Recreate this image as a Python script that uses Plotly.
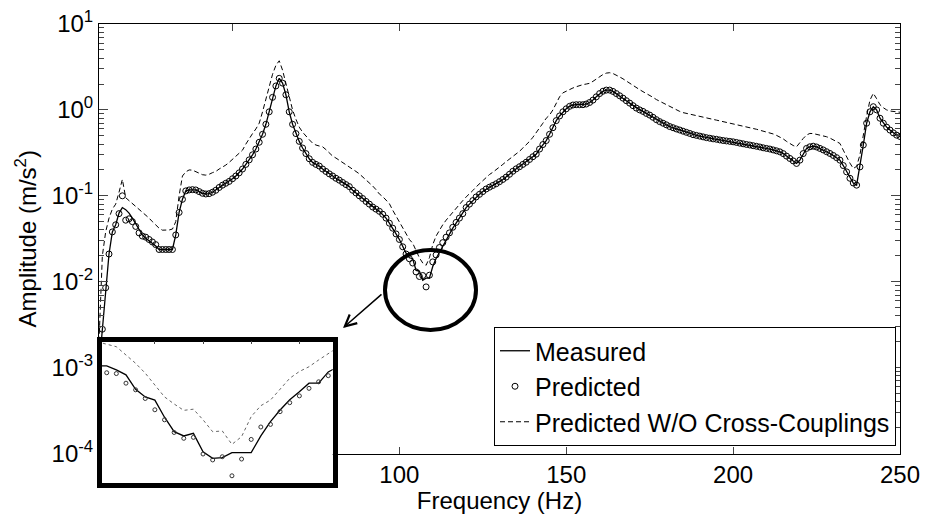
import plotly.graph_objects as go

# ---------------- data ----------------
freq = list(range(10, 251))  # Hz, 1 Hz resolution

measured = [
    0.001, 0.0028, 0.0085, 0.021, 0.038, 0.046, 0.063, 0.073, 0.069, 0.063,
    0.055, 0.047, 0.04, 0.035, 0.032, 0.03, 0.028, 0.026, 0.0237, 0.0237,
    0.0237, 0.0237, 0.0237, 0.035, 0.064, 0.091, 0.114, 0.117, 0.118, 0.117,
    0.112, 0.107, 0.105, 0.106, 0.11, 0.116, 0.125, 0.133, 0.14, 0.147,
    0.158, 0.17, 0.185, 0.205, 0.232, 0.262, 0.3, 0.35, 0.42, 0.52,
    0.68, 0.95, 1.4, 1.9, 2.33, 2.05, 1.5, 0.95, 0.68, 0.53,
    0.43, 0.36, 0.31, 0.27, 0.245, 0.232, 0.222, 0.205, 0.192, 0.18,
    0.17, 0.16, 0.152, 0.143, 0.135, 0.128, 0.116, 0.108, 0.1, 0.093,
    0.086, 0.08, 0.074, 0.07, 0.066, 0.061, 0.055, 0.048, 0.042, 0.036,
    0.031, 0.026, 0.0215, 0.019, 0.0185, 0.0135, 0.0133, 0.0104, 0.011, 0.011,
    0.015, 0.0186, 0.022, 0.0255, 0.03, 0.036, 0.042, 0.048, 0.055, 0.062,
    0.073, 0.08, 0.088, 0.097, 0.104, 0.112, 0.12, 0.126, 0.132, 0.138,
    0.146, 0.155, 0.165, 0.178, 0.193, 0.206, 0.218, 0.232, 0.246, 0.265,
    0.285, 0.305, 0.35, 0.395, 0.44, 0.52, 0.62, 0.75, 0.85, 0.95,
    1.03, 1.1, 1.14, 1.15, 1.15, 1.15, 1.17, 1.22, 1.3, 1.42,
    1.55, 1.65, 1.7, 1.7, 1.64, 1.55, 1.46, 1.37, 1.28, 1.2,
    1.12, 1.05, 1.0, 0.96, 0.91, 0.87, 0.82, 0.77, 0.73, 0.7,
    0.67, 0.64, 0.62, 0.6, 0.583, 0.565, 0.548, 0.532, 0.515, 0.505,
    0.495, 0.485, 0.475, 0.468, 0.46, 0.455, 0.447, 0.44, 0.435, 0.43,
    0.425, 0.418, 0.41, 0.403, 0.396, 0.39, 0.383, 0.377, 0.37, 0.362,
    0.356, 0.35, 0.342, 0.334, 0.325, 0.31, 0.29, 0.272, 0.255, 0.238,
    0.26, 0.31, 0.356, 0.372, 0.378, 0.37, 0.356, 0.342, 0.326, 0.311,
    0.295, 0.278, 0.26, 0.225, 0.19, 0.16, 0.141, 0.133, 0.217, 0.39,
    0.7, 0.95, 1.09, 1.0, 0.8, 0.7, 0.63, 0.582, 0.54, 0.508, 0.49,
]

predicted = [
    0.001, 0.0028, 0.0085, 0.021, 0.038, 0.046, 0.062, 0.1, 0.052, 0.054,
    0.05, 0.044, 0.037, 0.034, 0.033, 0.031, 0.029, 0.027, 0.0237, 0.0237,
    0.0237, 0.0237, 0.0237, 0.035, 0.064, 0.091, 0.114, 0.117, 0.118, 0.117,
    0.112, 0.107, 0.105, 0.106, 0.11, 0.116, 0.125, 0.133, 0.14, 0.147,
    0.158, 0.17, 0.185, 0.205, 0.232, 0.262, 0.3, 0.35, 0.42, 0.52,
    0.68, 0.95, 1.4, 1.9, 2.33, 2.05, 1.5, 0.95, 0.68, 0.53,
    0.43, 0.36, 0.31, 0.27, 0.245, 0.232, 0.222, 0.205, 0.192, 0.18,
    0.17, 0.16, 0.152, 0.143, 0.135, 0.128, 0.116, 0.108, 0.1, 0.093,
    0.086, 0.08, 0.074, 0.07, 0.066, 0.061, 0.055, 0.048, 0.042, 0.036,
    0.031, 0.0255, 0.021, 0.0185, 0.0165, 0.013, 0.0115, 0.0118, 0.0087, 0.0119,
    0.017, 0.0205, 0.025, 0.0285, 0.033, 0.037, 0.043, 0.049, 0.055, 0.062,
    0.073, 0.08, 0.088, 0.097, 0.104, 0.112, 0.12, 0.126, 0.132, 0.138,
    0.146, 0.155, 0.165, 0.178, 0.193, 0.206, 0.218, 0.232, 0.246, 0.265,
    0.285, 0.305, 0.35, 0.395, 0.44, 0.52, 0.62, 0.75, 0.85, 0.95,
    1.03, 1.1, 1.14, 1.15, 1.15, 1.15, 1.17, 1.22, 1.3, 1.42,
    1.55, 1.65, 1.7, 1.7, 1.64, 1.55, 1.46, 1.37, 1.28, 1.2,
    1.12, 1.05, 1.0, 0.96, 0.91, 0.87, 0.82, 0.77, 0.73, 0.7,
    0.67, 0.64, 0.62, 0.6, 0.583, 0.565, 0.548, 0.532, 0.515, 0.505,
    0.495, 0.485, 0.475, 0.468, 0.46, 0.455, 0.447, 0.44, 0.435, 0.43,
    0.425, 0.418, 0.41, 0.403, 0.396, 0.39, 0.383, 0.377, 0.37, 0.362,
    0.356, 0.35, 0.342, 0.334, 0.325, 0.31, 0.29, 0.272, 0.255, 0.238,
    0.26, 0.31, 0.356, 0.372, 0.378, 0.37, 0.356, 0.342, 0.326, 0.311,
    0.295, 0.278, 0.26, 0.225, 0.19, 0.16, 0.141, 0.133, 0.217, 0.39,
    0.7, 0.95, 1.09, 1.0, 0.8, 0.7, 0.63, 0.582, 0.54, 0.508, 0.49,
]

without_cc = [
    0.002, 0.02, 0.038, 0.055, 0.07, 0.08, 0.11, 0.155, 0.095, 0.088,
    0.08, 0.075, 0.069, 0.064, 0.059, 0.055, 0.05, 0.046, 0.042, 0.0398,
    0.0398, 0.04, 0.041, 0.05, 0.1, 0.17, 0.19, 0.2, 0.199, 0.19,
    0.182, 0.176, 0.174, 0.178, 0.186, 0.192, 0.205, 0.215, 0.228, 0.245,
    0.265, 0.285, 0.31, 0.34, 0.4, 0.47, 0.53, 0.6, 0.7, 0.95,
    1.3, 1.8, 2.6, 3.3, 3.73, 2.9, 2.0, 1.4, 1.0, 0.78,
    0.63, 0.55, 0.49, 0.45, 0.41, 0.39, 0.38, 0.372, 0.345, 0.315,
    0.29, 0.275, 0.26, 0.245, 0.23, 0.217, 0.205, 0.192, 0.18, 0.167,
    0.155, 0.143, 0.13, 0.118, 0.105, 0.098, 0.09, 0.081, 0.068, 0.058,
    0.048, 0.041, 0.035, 0.031, 0.028, 0.023, 0.019, 0.0165, 0.0155, 0.019,
    0.027, 0.034, 0.04, 0.046, 0.052, 0.058, 0.064, 0.07, 0.079, 0.088,
    0.097, 0.105, 0.115, 0.127, 0.139, 0.152, 0.165, 0.177, 0.188, 0.2,
    0.215, 0.232, 0.25, 0.268, 0.284, 0.305, 0.33, 0.36, 0.39, 0.43,
    0.48, 0.54, 0.61, 0.7, 0.8, 0.87, 1.0, 1.2, 1.42, 1.58,
    1.66, 1.73, 1.8, 1.86, 1.92, 1.97, 2.0, 2.04, 2.15, 2.3,
    2.43, 2.58, 2.68, 2.71, 2.65, 2.55, 2.42, 2.3, 2.16, 2.04,
    1.93, 1.82, 1.72, 1.63, 1.56, 1.48, 1.4, 1.32, 1.26, 1.2,
    1.14, 1.1, 1.05, 1.0, 0.96, 0.93, 0.91, 0.89, 0.87, 0.85,
    0.83, 0.815, 0.8, 0.79, 0.775, 0.76, 0.745, 0.73, 0.72, 0.71,
    0.7, 0.685, 0.67, 0.655, 0.64, 0.625, 0.61, 0.595, 0.58, 0.568,
    0.556, 0.54, 0.525, 0.505, 0.487, 0.46, 0.43, 0.405, 0.385, 0.372,
    0.42, 0.465, 0.51, 0.532, 0.53, 0.52, 0.505, 0.495, 0.487, 0.47,
    0.45, 0.43, 0.407, 0.34, 0.284, 0.24, 0.208, 0.22, 0.3, 0.532,
    0.85, 1.3, 1.56, 1.35, 1.15, 1.06, 1.0, 0.97, 0.955, 0.95, 0.94,
]

# zoomed view of the anti-resonance near 108 Hz (0.5 Hz resolution)
inset_freq = [
    101.0, 101.5, 102.0, 102.5, 103.0, 103.5, 104.0, 104.5, 105.0, 105.5,
    106.0, 106.5, 107.0, 107.5, 108.0, 108.5, 109.0, 109.5, 110.0, 110.5,
    111.0, 111.5, 112.0, 112.5, 113.0, 113.5,
]
inset_measured = [
    0.026, 0.026, 0.025, 0.0238, 0.0206, 0.0191, 0.0185, 0.0156, 0.0135, 0.01294,
    0.01328, 0.01106, 0.01035, 0.01042, 0.01096, 0.01096, 0.01096, 0.01294, 0.01493, 0.01676,
    0.01855, 0.0201, 0.0219, 0.0219, 0.0245, 0.0258,
]
inset_predicted = [
    0.0245, 0.0243, 0.0241, 0.0219, 0.0205, 0.0188, 0.0168, 0.0152, 0.0134, 0.01264,
    0.01276, 0.01081, 0.01019, 0.01052, 0.0087, 0.01028, 0.0125, 0.01415, 0.01452, 0.01649,
    0.01803, 0.0193, 0.0208, 0.0222, 0.0236, 0.025,
]
inset_without_cc = [
    0.0331, 0.0324, 0.0315, 0.029, 0.0267, 0.0242, 0.0215, 0.0191, 0.0178, 0.0167,
    0.0169, 0.0152, 0.0135, 0.0136, 0.0119, 0.01285, 0.0157, 0.0175, 0.0185, 0.0206,
    0.023, 0.0246, 0.0258, 0.0276, 0.0293, 0.0313,
]

x_ticks = [50, 100, 150, 200, 250]
x_tick_text = ["", "100", "150", "200", "250"]   # 50 sits under the inset
y_exponents = [-4, -3, -2, -1, 0, 1]

# ---------------- layout helpers ----------------
W, H = 925, 514
ML, MR, MT, MB = 99, 25, 24, 20
PW, PH = W - ML - MR, H - MT - MB


def px(x):
    return (x - ML) / PW


def py(y):
    return (H - MB - y) / PH


FONT = "Liberation Sans, Arial, sans-serif"

fig = go.Figure()

fig.add_trace(go.Scatter(
    x=freq, y=measured, name="Measured", mode="lines",
    line=dict(color="black", width=1.3), xaxis="x", yaxis="y"))
fig.add_trace(go.Scatter(
    x=freq, y=predicted, name="Predicted", mode="markers",
    marker=dict(symbol="circle-open", size=6, color="black",
                line=dict(width=1, color="black")),
    xaxis="x", yaxis="y"))
fig.add_trace(go.Scatter(
    x=freq, y=without_cc, name="Predicted W/O Cross-Couplings", mode="lines",
    line=dict(color="black", width=1, dash="5px,3px"), xaxis="x", yaxis="y"))

# inset traces
fig.add_trace(go.Scatter(
    x=inset_freq, y=inset_without_cc, mode="lines", showlegend=False,
    line=dict(color="#666666", width=1, dash="dot"), xaxis="x2", yaxis="y2"))
fig.add_trace(go.Scatter(
    x=inset_freq, y=inset_measured, mode="lines", showlegend=False,
    line=dict(color="black", width=1.3), xaxis="x2", yaxis="y2"))
fig.add_trace(go.Scatter(
    x=inset_freq, y=inset_predicted, mode="markers", showlegend=False,
    marker=dict(symbol="circle-open", size=4, color="#333333",
                line=dict(width=1, color="#333333")),
    xaxis="x2", yaxis="y2"))

minor_y = [k * 10.0 ** e for e in range(-4, 1) for k in range(2, 10)]

fig.update_layout(
    width=W, height=H,
    margin=dict(l=ML, r=MR, t=MT, b=MB, pad=0, autoexpand=False),
    paper_bgcolor="white", plot_bgcolor="white",
    font=dict(family=FONT, size=24, color="black"),
    showlegend=True,
    legend=dict(
        x=px(896), y=py(446), xanchor="right", yanchor="bottom",
        bgcolor="white", bordercolor="black", borderwidth=1,
        font=dict(family=FONT, size=25, color="black"),
        tracegroupgap=0, itemwidth=30,
    ),
    xaxis=dict(
        domain=[0, 1], anchor="y", range=[10, 250], automargin=False,
        tickvals=x_ticks, ticktext=x_tick_text,
        ticks="inside", ticklen=7, tickwidth=1,
        showline=True, linecolor="black", linewidth=1, mirror="ticks",
        showgrid=False, zeroline=False,
        tickfont=dict(size=24),
        title=dict(text="Frequency (Hz)", font=dict(size=24), standoff=2),
    ),
    yaxis=dict(
        domain=[py(453.5), 1], anchor="x", type="log", range=[-4, 1],
        automargin=False,
        tickvals=[10.0 ** e for e in y_exponents],
        ticktext=["10<sup>%d</sup>" % e for e in y_exponents],
        ticks="inside", ticklen=9, tickwidth=1,
        minor=dict(tickvals=minor_y, ticks="inside", ticklen=5, tickwidth=1,
                   showgrid=False),
        showline=True, linecolor="black", linewidth=1, mirror="ticks",
        showgrid=False, zeroline=False,
        tickfont=dict(size=24),
        title=dict(text="Amplitude (m/s<sup>2</sup>)", font=dict(size=24), standoff=8),
    ),
    xaxis2=dict(
        domain=[px(101.7), px(332.7)], anchor="y2", range=[101.24, 113.23],
        automargin=False,
        side="top", tickvals=[104, 106.5, 109, 111.5], ticks="inside",
        ticklen=3, tickwidth=1, showticklabels=False,
        showline=True, linecolor="black", linewidth=4.5, mirror=True,
        showgrid=False, zeroline=False,
    ),
    yaxis2=dict(
        domain=[py(483.3), py(341.7)], anchor="x2", type="log",
        range=[-2.093, -1.480], ticks="", showticklabels=False,
        automargin=False,
        showline=True, linecolor="black", linewidth=4.5, mirror=True,
        showgrid=False, zeroline=False,
    ),
    shapes=[
        dict(type="circle", xref="paper", yref="paper",
             x0=px(385), x1=px(476), y0=py(330), y1=py(250),
             line=dict(color="black", width=4), layer="above"),
    ],
    annotations=[
        dict(xref="paper", yref="paper", x=px(343), y=py(328), text="",
             showarrow=True, ax=40, ay=-35, arrowhead=5, arrowsize=1.5,
             arrowwidth=1.5, arrowcolor="black"),
    ],
)

fig.write_html("out.html")
